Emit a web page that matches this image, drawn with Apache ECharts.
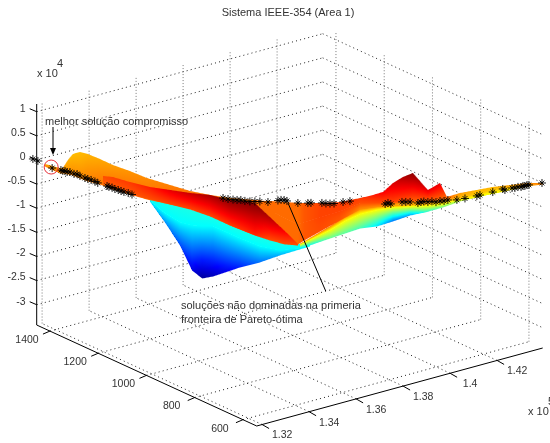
<!DOCTYPE html>
<html><head><meta charset="utf-8">
<style>html,body{margin:0;padding:0;background:#fff}#c{width:550px;height:443px}</style>
<script src="https://cdn.jsdelivr.net/npm/echarts@6/dist/echarts.min.js"></script>
</head><body><div id="c"></div>
<script>
// ---------- axis limits and ticks (x in 1e5, z in 1e4) ----------
const xMin = 1.3177, xMax = 1.4394, yMin = 543, yMax = 1455, zMin = -3.42, zMax = 1.16;
const xTicks = [1.32, 1.34, 1.36, 1.38, 1.40, 1.42];
const xTickLabels = ['1.32', '1.34', '1.36', '1.38', '1.4', '1.42'];
const yTicks = [1400, 1200, 1000, 800, 600];
const yTickLabels = ['1400', '1200', '1000', '800', '600'];
const zTicks = [1, 0.5, 0, -0.5, -1, -1.5, -2, -2.5, -3];
const zTickLabels = ['1', '0.5', '0', '-0.5', '-1', '-1.5', '-2', '-2.5', '-3'];

// ---------- non-dominated solutions ----------
const starX = [1.3168,1.3180,1.3214,1.3235,1.3240,1.3245,1.3250,1.3257,1.3267,1.3274,1.3281,1.3293,1.3300,1.3308,1.3317,1.3324,1.3346,1.3351,1.3358,1.3365,1.3373,1.3380,1.3387,1.3397,1.3406,
 1.3625,1.3637,1.3649,1.3659,1.3668,1.3678,1.3690,1.3702,1.3714,1.3733,1.3757,1.3765,1.3772,1.3779,1.3805,1.3829,1.3837,1.3863,1.3873,1.3882,1.3892,1.3914,1.3930,
 1.4015,1.4022,1.4029,1.4056,1.4065,1.4075,1.4094,1.4101,1.4108,1.4118,1.4128,1.4137,1.4147,1.4157,1.4166,1.4188,1.4207,1.4236,1.4243,1.4274,1.4298,1.4303,1.4320,1.4327,1.4335,1.4342,1.4347,1.4351,1.4356,1.4361,1.4392];
const starY = [1462,1453,1427,1411,1408,1404,1400,1395,1388,1382,1377,1368,1363,1357,1350,1345,1328,1325,1319,1314,1308,1303,1298,1290,1283,
 1119,1110,1101,1094,1087,1080,1071,1062,1053,1038,1020,1015,1009,1004,984,966,961,941,934,926,919,903,890,
 827,822,817,797,790,782,768,762,757,750,743,735,728,721,714,698,683,662,656,633,615,611,598,593,588,582,579,575,571,568,544];
const starZ = [0.017,-0.020,-0.152,-0.185,-0.203,-0.201,-0.220,-0.218,-0.255,-0.253,-0.290,-0.328,-0.346,-0.363,-0.392,-0.419,-0.473,-0.491,-0.500,-0.527,-0.545,-0.564,-0.581,-0.599,-0.626,
 -0.612,-0.628,-0.635,-0.641,-0.637,-0.653,-0.659,-0.655,-0.651,-0.653,-0.612,-0.599,-0.597,-0.614,-0.645,-0.637,-0.632,-0.622,-0.630,-0.626,-0.622,-0.583,-0.556,
 -0.585,-0.560,-0.579,-0.527,-0.523,-0.518,-0.533,-0.508,-0.496,-0.502,-0.487,-0.496,-0.471,-0.467,-0.442,-0.433,-0.394,-0.332,-0.309,-0.235,-0.162,-0.181,-0.133,-0.131,-0.106,-0.104,-0.081,-0.079,-0.056,-0.054,0.000];
const bestX = 1.3214, bestY = 1427, bestZ = -0.152;

// ---------- surface sheets: section positions, z per row, colour value per row ----------
const blueX = [1.3449,1.3486,1.3522,1.3551,1.3575,1.3601,1.3666,1.3714,1.3762,1.3810,1.3834];
const blueY = [1251,1224,1197,1175,1157,1137,1089,1053,1017,981,963];
const blueZ = [[-0.661,-0.709,-0.798,-0.890,-0.922,-0.995,-1.218,-1.345,-1.471,-1.493,-1.401],
               [-0.723,-0.978,-1.150,-1.201,-1.213,-1.202,-1.426,-1.573,-1.637,-1.576,-1.463],
               [-0.743,-1.165,-1.627,-2.134,-2.290,-2.238,-2.027,-1.904,-1.740,-1.597,-1.525]];
const blueC = [[.40,.40,.40,.40,.40,.40,.40,.40,.40,.40,.40],
               [.375,.375,.375,.375,.375,.375,.375,.375,.375,.375,.375],
               [.35,.27,.20,.10,.03,.06,.16,.24,.30,.36,.40]];

const wedgeX = [1.3810,1.3834,1.3882,1.3918,1.3955,1.3995,1.4034,1.4075,1.4111,1.4154,1.4195,1.4243,1.4291,1.4356];
const wedgeY = [981,963,926,899,872,842,813,782,755,723,692,656,620,571];
const wedgeZ = [[-1.493,-1.360,-1.092,-0.871,-0.691,-0.633,-0.597,-0.561,-0.526,-0.467,-0.348,-0.246,-0.165,-0.036],
                [-1.514,-1.401,-1.175,-0.974,-0.815,-0.716,-0.660,-0.623,-0.588,-0.530,-0.410,-0.308,-0.186,-0.057],
                [-1.556,-1.505,-1.341,-1.223,-1.105,-1.048,-0.929,-0.789,-0.712,-0.592,-0.451,-0.329,-0.227,-0.077]];
const wedgeC = [[.75,.76,.76,.76,.76,.76,.76,.76,.76,.74,.70,.68,.68,.72],
                [.62,.62,.62,.62,.62,.62,.60,.60,.62,.62,.63,.64,.66,.70],
                [.45,.40,.48,.47,.45,.36,.25,.30,.42,.50,.55,.60,.63,.68]];

const crestX = [1.3702,1.3738,1.3774,1.3805,1.3820,1.3858,1.3906,1.3955,1.3986,1.4010,1.4034,1.4058,1.4082,1.4118,1.4147,1.4164,1.4195,1.4236,1.4274,1.4315,1.4356,1.4395];
const crestY = [1062,1035,1008,984,973,944,908,872,849,831,813,795,777,750,728,716,692,662,633,602,571,543];
const crestZ = [[-0.686,-0.630,-0.637,-0.645,-0.640,-0.625,-0.585,-0.484,-0.409,-0.337,-0.142,-0.008,0.085,-0.254,-0.097,-0.381,-0.286,-0.207,-0.130,-0.073,-0.015,0.000],
                [-0.686,-0.817,-0.969,-1.081,-1.034,-0.915,-0.772,-0.587,-0.575,-0.565,-0.535,-0.505,-0.475,-0.461,-0.429,-0.422,-0.369,-0.290,-0.192,-0.114,-0.057,-0.011],
                [-0.686,-0.983,-1.279,-1.495,-1.407,-1.205,-0.958,-0.711,-0.658,-0.628,-0.597,-0.567,-0.558,-0.523,-0.491,-0.464,-0.431,-0.352,-0.255,-0.156,-0.077,-0.021]];
const crestC = [[.77,.77,.77,.77,.79,.81,.82,.82,.85,.88,.91,.95,.99,.90,.90,.78,.72,.70,.70,.72,.74,.75],
                [.77,.77,.77,.77,.79,.81,.81,.80,.80,.80,.81,.80,.79,.79,.78,.76,.70,.68,.68,.70,.72,.75],
                [.77,.77,.77,.77,.79,.80,.79,.74,.74,.74,.72,.70,.70,.70,.70,.68,.64,.62,.62,.65,.70,.75]];

const ridgeX = [1.3197,1.3233,1.3240,1.3252,1.3264,1.3281,1.3300,1.3329,1.3360,1.3401,1.3442,1.3498,1.3546,1.3594,1.3642,1.3702,1.3750];
const ridgeY = [1440,1413,1408,1399,1390,1377,1363,1341,1318,1287,1256,1215,1179,1143,1107,1062,1026];
const ridgeZ = [[-0.076,-0.144,-0.141,0.029,0.158,0.206,0.172,0.080,-0.032,-0.141,-0.270,-0.393,-0.499,-0.563,-0.606,-0.624,-0.646],
                [-0.117,-0.248,-0.245,-0.261,-0.277,-0.333,-0.387,-0.438,-0.530,-0.617,-0.705,-0.787,-0.851,-0.977,-1.165,-1.349,-1.434]];
const ridgeC = [[.72,.72,.72,.70,.69,.69,.70,.71,.72,.73,.74,.75,.76,.76,.76,.77,.77],
                [.74,.74,.74,.74,.74,.74,.75,.76,.77,.77,.77,.78,.78,.78,.78,.77,.77]];

const foldX = [1.3336,1.3360,1.3401,1.3449,1.3498,1.3546,1.3594,1.3642,1.3678,1.3702,1.3738,1.3774,1.3805];
const foldY = [1336,1318,1287,1251,1215,1179,1143,1107,1080,1062,1035,1008,984];
const foldZ = [[-0.270,-0.281,-0.369,-0.453,-0.497,-0.540,-0.563,-0.647,-0.654,-0.686,-0.962,-1.238,-1.495],
               [-0.435,-0.488,-0.617,-0.702,-0.787,-0.872,-0.998,-1.165,-1.276,-1.349,-1.439,-1.507,-1.516]];
const foldC = [[.80,.81,.82,.85,.90,.93,.96,.99,1.0,1.0,.95,.88,.80],
               [.78,.79,.79,.80,.81,.81,.81,.82,.83,.84,.80,.80,.80]];

// ---------- view of the 3-D box ----------
const boxLeft = [36.7, 325], boxBottom = [256.7, 426], boxRight = [542.7, 348];
const W = 550, H = 443;
const zScale = 221 / (zMax - zMin);
function project(x, y, z) {
  const a = (x - xMin) / (xMax - xMin), b = (yMax - y) / (yMax - yMin);
  return [
    boxLeft[0] + a * (boxRight[0] - boxBottom[0]) + b * (boxBottom[0] - boxLeft[0]),
    boxLeft[1] + a * (boxRight[1] - boxBottom[1]) + b * (boxBottom[1] - boxLeft[1]) - (z - zMin) * zScale
  ];
}
function jet(v) {
  const c = t => Math.max(0, Math.min(1, t));
  const r = c(1.5 - Math.abs(4 * v - 3)), g = c(1.5 - Math.abs(4 * v - 2)), b = c(1.5 - Math.abs(4 * v - 1));
  return 'rgb(' + Math.round(r * 255) + ',' + Math.round(g * 255) + ',' + Math.round(b * 255) + ')';
}

// painter's order, far to near
const sheets = [
  { x: blueX, y: blueY, z: blueZ, c: blueC },
  { x: wedgeX, y: wedgeY, z: wedgeZ, c: wedgeC },
  { x: ridgeX, y: ridgeY, z: ridgeZ, c: ridgeC },
  { x: crestX, y: crestY, z: crestZ, c: crestC },
  { x: foldX, y: foldY, z: foldZ, c: foldC }
];
const cells = [];
sheets.forEach((s, k) => {
  for (let r = 0; r < s.z.length - 1; r++)
    for (let i = 0; i < s.x.length - 1; i++) cells.push([k, r, i]);
});

// Gouraud-like shading of one cell: whole-pixel vertical slices with a vertical colour ramp
function renderCell(params, api) {
  const k = api.value(0), r = api.value(1), i = api.value(2), s = sheets[k];
  const pt = (col, row) => api.coord(project(s.x[col], s.y[col], s.z[row][col]));
  const a0 = pt(i, r), b0 = pt(i + 1, r), a1 = pt(i, r + 1), b1 = pt(i + 1, r + 1);
  const c = (col, row) => s.c[row][col];
  const left = Math.round(a0[0]), right = Math.round(b0[0]);
  const kids = [];
  const lerp = (p, q, t) => p + (q - p) * t;
  const unit = X => Math.max(0, Math.min(1, (X - a0[0]) / (b0[0] - a0[0])));
  for (let X = left; X < right; X++) {
    const t0 = unit(X), t1 = unit(X + 1), tm = unit(X + 0.5);
    const ya0 = lerp(a0[1], b0[1], t0), yb0 = lerp(a0[1], b0[1], t1);
    const ya1 = lerp(a1[1], b1[1], t0), yb1 = lerp(a1[1], b1[1], t1);
    const top = lerp(a0[1], b0[1], tm), bot = lerp(a1[1], b1[1], tm);
    const ct = lerp(c(i, r), c(i + 1, r), tm), cb = lerp(c(i, r + 1), c(i + 1, r + 1), tm);
    const stops = [];
    for (let q = 0; q <= 6; q++) stops.push({ offset: q / 6, color: jet(lerp(ct, cb, q / 6)) });
    const fill = bot - top < 0.5 ? jet((ct + cb) / 2)
      : new echarts.graphic.LinearGradient(0, top, 0, bot, stops, true);
    kids.push({
      type: 'polygon',
      shape: { points: [[X, ya0], [X + 1, yb0], [X + 1, yb1 + 0.5], [X, ya1 + 0.5]] },
      style: { fill: fill, stroke: null }
    });
  }
  return { type: 'group', children: kids };
}

// dotted box grid
const gridLines = [];
xTicks.forEach(x => {
  gridLines.push([x, yMax, zMin, x, yMax, zMax, 1]);
  gridLines.push([x, yMin, zMin, x, yMax, zMin, 0]);
});
yTicks.forEach(y => {
  gridLines.push([xMax, y, zMin, xMax, y, zMax, 1]);
  gridLines.push([xMin, y, zMin, xMax, y, zMin, 0]);
});
zTicks.forEach(z => {
  gridLines.push([xMin, yMax, z, xMax, yMax, z, 0]);
  gridLines.push([xMax, yMax, z, xMax, yMin, z, 0]);
});

function segment(api, style) {
  const p = api.coord(project(api.value(0), api.value(1), api.value(2)));
  const q = api.coord(project(api.value(3), api.value(4), api.value(5)));
  return { type: 'line', shape: { x1: p[0], y1: p[1], x2: q[0], y2: q[1] }, style: style };
}

const font = '"Liberation Sans", Arial, sans-serif';
const textColor = '#333';
const fontSize = 10.5;
const noteSize = 11;

// axis lines and outward ticks
const axisLines = [
  [xMin, yMax, zMin, xMin, yMax, zMax],
  [xMin, yMax, zMin, xMin, yMin, zMin],
  [xMin, yMin, zMin, xMax, yMin, zMin]
];
const tickMarks = [];
zTicks.forEach((z, i) => tickMarks.push({ p: [xMin, yMax, z], d: [-7, -3], t: zTickLabels[i], o: [-11, -3], a: 'right' }));
yTicks.forEach((y, i) => tickMarks.push({ p: [xMin, y, zMin], d: [-7, 3], t: yTickLabels[i], o: [-23, 9], a: 'center' }));
xTicks.forEach((x, i) => tickMarks.push({ p: [x, yMin, zMin], d: [7, 4], t: xTickLabels[i], o: [20, 11], a: 'center' }));

const note = (text, x, y, size, align) => ({
  type: 'text', z: 10,
  style: { text: text, x: x, y: y, align: align || 'left', verticalAlign: 'middle', font: (size || noteSize) + 'px ' + font, fill: textColor }
});

const chart = echarts.init(document.getElementById('c'), null, { renderer: 'canvas' });
chart.setOption({
  animation: false,
  backgroundColor: '#fff',
  grid: { left: 0, right: 0, top: 0, bottom: 0 },
  xAxis: { type: 'value', min: 0, max: W, show: false },
  yAxis: { type: 'value', min: 0, max: H, inverse: true, show: false },
  series: [
    {
      type: 'custom', name: 'grid', silent: true, clip: false, z: 1,
      coordinateSystem: 'cartesian2d', encode: { x: 0, y: 1 },
      data: gridLines,
      renderItem: (p, api) => segment(api, api.value(6)
        ? { stroke: '#777', lineWidth: 1, lineDash: [1, 2] }
        : { stroke: '#222', lineWidth: 1, lineDash: [1, 3.2] })
    },
    {
      type: 'custom', name: 'surface', silent: true, clip: false, z: 2,
      coordinateSystem: 'cartesian2d', encode: { x: 0, y: 1 },
      data: cells, renderItem: renderCell
    },
    {
      type: 'scatter', name: 'solutions', silent: true, clip: false, z: 3,
      symbol: 'path://M-5 0L5 0M0 -5L0 5M-3 -3L3 3M-3 3L3 -3',
      symbolSize: 8,
      itemStyle: { color: 'rgba(0,0,0,0)', borderColor: '#000', borderWidth: 0.9, opacity: 1 },
      data: starX.map((x, i) => project(x, starY[i], starZ[i]))
    },
    {
      type: 'custom', name: 'best', silent: true, clip: false, z: 4,
      coordinateSystem: 'cartesian2d', encode: { x: 0, y: 1 },
      data: [[bestX, bestY, bestZ]],
      renderItem: (p, api) => {
        const c = api.coord(project(api.value(0), api.value(1), api.value(2)));
        return { type: 'circle', shape: { cx: c[0] - 1, cy: c[1] - 1, r: 7 }, style: { fill: null, stroke: '#e8333a', lineWidth: 1 } };
      }
    },
    {
      type: 'custom', name: 'axes', silent: true, clip: false, z: 5,
      coordinateSystem: 'cartesian2d', encode: { x: 0, y: 1 },
      data: axisLines,
      renderItem: (p, api) => segment(api, { stroke: '#000', lineWidth: 1 })
    },
    {
      type: 'custom', name: 'ticks', silent: true, clip: false, z: 5,
      coordinateSystem: 'cartesian2d', encode: { x: 0, y: 1 },
      data: tickMarks.map((t, i) => [i]),
      renderItem: (params, api) => {
        const t = tickMarks[api.value(0)];
        const c = api.coord(project(t.p[0], t.p[1], t.p[2]));
        return {
          type: 'group', children: [
            { type: 'line', shape: { x1: c[0], y1: c[1], x2: c[0] + t.d[0], y2: c[1] + t.d[1] }, style: { stroke: '#000', lineWidth: 1 } },
            { type: 'text', style: { text: t.t, x: c[0] + t.o[0], y: c[1] + t.o[1], align: t.a, verticalAlign: 'middle', font: fontSize + 'px ' + font, fill: textColor } }
          ]
        };
      }
    }
  ],
  graphic: [
    note('Sistema IEEE-354 (Area 1)', 288, 13, noteSize, 'center'),
    note('melhor solução compromisso', 45, 122),
    { type: 'line', z: 10, shape: { x1: 53, y1: 127, x2: 53, y2: 150 }, style: { stroke: '#000', lineWidth: 1 } },
    { type: 'polygon', z: 10, shape: { points: [[50, 148], [56, 148], [53, 155]] }, style: { fill: '#000' } },
    { type: 'line', z: 10, shape: { x1: 288, y1: 203, x2: 325.7, y2: 291 }, style: { stroke: '#000', lineWidth: 1 } },
    note('soluções não dominadas na primeria', 181, 306),
    note('fronteira de Pareto-ótima', 181, 320),
    note('x 10', 37, 74),
    note('4', 57, 64),
    note('x 10', 528, 412),
    note('5', 548, 402)
  ]
});
</script>
</body></html>
